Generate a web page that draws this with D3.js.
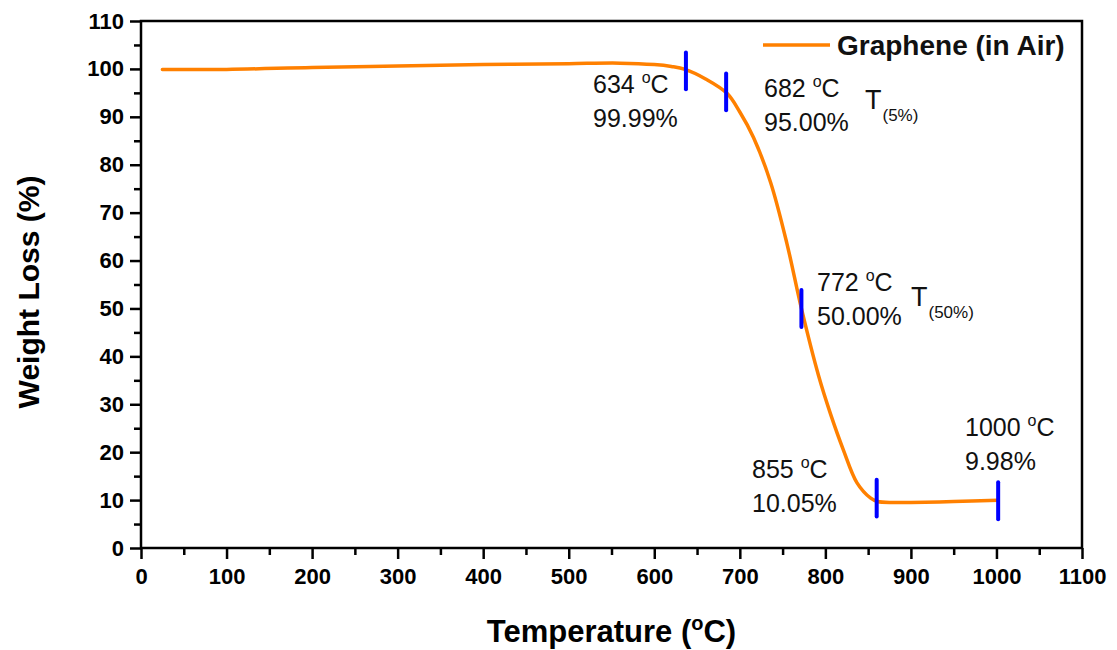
<!DOCTYPE html>
<html>
<head>
<meta charset="utf-8">
<script src="https://cdn.jsdelivr.net/npm/d3@7"></script>
<style>
  body { margin: 0; background: #fff; }
  svg text { font-family: "Liberation Sans", Arial, sans-serif; }
</style>
</head>
<body>
<svg id="chart" width="1117" height="650"></svg>
<script>
// TGA curve
var temps   = [25, 100, 200, 300, 400, 500, 560, 600, 620, 636, 660, 685, 700, 716, 736, 755, 772, 792, 806, 821, 837, 853, 861, 880, 900, 950, 1002];
var weights = [99.9, 99.9, 100.3, 100.6, 100.9, 101.1, 101.2, 100.9, 100.5, 99.9, 97.9, 94.9, 91.0, 85.7, 76.3, 63.6, 50.0, 36.0, 28.0, 20.5, 13.6, 10.4, 9.7, 9.5, 9.5, 9.7, 9.98];

// blue markers and their labels
var markT   = [637, 684, 772, 860, 1002];
var markW   = [99.6, 95.2, 50.0, 10.4, 9.85];
var markTempLabels = ['634', '682', '772', '855', '1000'];
var markPctLabels  = ['99.99%', '95.00%', '50.00%', '10.05%', '9.98%'];

var xTicks = [0, 100, 200, 300, 400, 500, 600, 700, 800, 900, 1000, 1100];
var yTicks = [0, 10, 20, 30, 40, 50, 60, 70, 80, 90, 100, 110];

var svg = d3.select('#chart');
var margin = {left: 141, top: 21, right: 35, bottom: 102};
var width = 1117 - margin.left - margin.right;
var height = 650 - margin.top - margin.bottom;

var g = svg.append('g').attr('transform', 'translate(' + margin.left + ',' + margin.top + ')');

var x = d3.scaleLinear().domain([0, 1100]).range([0, width]);
var y = d3.scaleLinear().domain([0, 110]).range([height, 0]);

// minor ticks
var xMinor = d3.range(50, 1100, 100);
var yMinor = d3.range(5, 110, 10);

g.append('g')
  .attr('transform', 'translate(0,' + height + ')')
  .call(d3.axisBottom(x).tickValues(xMinor).tickSize(7).tickFormat(''))
  .call(function(s) { s.select('.domain').remove(); })
  .selectAll('line').attr('stroke-width', 2.5);

g.append('g')
  .call(d3.axisLeft(y).tickValues(yMinor).tickSize(7).tickFormat(''))
  .call(function(s) { s.select('.domain').remove(); })
  .selectAll('line').attr('stroke-width', 2.5);

var xAxis = g.append('g')
  .attr('transform', 'translate(0,' + height + ')')
  .call(d3.axisBottom(x).tickValues(xTicks).tickFormat(d3.format('d'))
    .tickSize(11).tickSizeOuter(0).tickPadding(9));
xAxis.select('.domain').remove();
xAxis.selectAll('line').attr('stroke-width', 2.5);
xAxis.selectAll('text')
  .attr('font-size', 22).attr('font-weight', 'bold').attr('fill', '#000')
  .attr('font-family', '"Liberation Sans", Arial, sans-serif');

var yAxis = g.append('g')
  .call(d3.axisLeft(y).tickValues(yTicks).tickFormat(d3.format('d'))
    .tickSize(11).tickSizeOuter(0).tickPadding(6));
yAxis.select('.domain').remove();
yAxis.selectAll('line').attr('stroke-width', 2.5);
yAxis.selectAll('text')
  .attr('font-size', 22).attr('font-weight', 'bold').attr('fill', '#000')
  .attr('font-family', '"Liberation Sans", Arial, sans-serif');

// frame
g.append('rect')
  .attr('x', 0).attr('y', 0)
  .attr('width', width).attr('height', height)
  .attr('fill', 'none').attr('stroke', '#000').attr('stroke-width', 2.5);

// curve
var line = d3.line()
  .x(function(d, i) { return x(temps[i]); })
  .y(function(d, i) { return y(weights[i]); })
  .curve(d3.curveCatmullRom.alpha(0.5));

g.append('path')
  .datum(temps)
  .attr('d', line)
  .attr('fill', 'none')
  .attr('stroke', '#ff8000')
  .attr('stroke-width', 3.5)
  .attr('stroke-linecap', 'round');

// blue markers
var markHalf = 3.85;
g.selectAll('.mark')
  .data(markT)
  .enter().append('line')
  .attr('class', 'mark')
  .attr('x1', function(d) { return x(d); })
  .attr('x2', function(d) { return x(d); })
  .attr('y1', function(d, i) { return y(markW[i] + markHalf); })
  .attr('y2', function(d, i) { return y(markW[i] - markHalf); })
  .attr('stroke', '#0000ff')
  .attr('stroke-width', 4)
  .attr('stroke-linecap', 'round');

// annotation text (absolute page positions)
var labelPos = [[593, 93], [764, 97], [817, 291], [752, 478], [965, 436]];
var ann = svg.append('g').attr('font-size', 25).attr('fill', '#111');
labelPos.forEach(function(p, i) {
  var t = ann.append('text').attr('x', p[0]).attr('y', p[1]);
  t.append('tspan').text(markTempLabels[i] + ' ');
  t.append('tspan').attr('font-size', 16).attr('dy', -10).text('o');
  t.append('tspan').attr('dy', 10).text('C');
  ann.append('text').attr('x', p[0]).attr('y', p[1] + 34).text(markPctLabels[i]);
});

// T(5%) and T(50%)
var tLabels = [['(5%)', 865, 109], ['(50%)', 911, 306]];
tLabels.forEach(function(d) {
  var t = svg.append('text').attr('x', d[1]).attr('y', d[2]).attr('font-size', 27).attr('fill', '#111');
  t.append('tspan').text('T');
  t.append('tspan').attr('font-size', 17).attr('dx', 1).attr('dy', 12).text(d[0]);
});

// legend
svg.append('line')
  .attr('x1', 763).attr('x2', 830).attr('y1', 45).attr('y2', 45)
  .attr('stroke', '#ff8000').attr('stroke-width', 3.5);
svg.append('text')
  .attr('x', 837).attr('y', 55)
  .attr('font-size', 28).attr('font-weight', 'bold').attr('fill', '#111')
  .text('Graphene (in Air)');

// axis titles
var xt = svg.append('text')
  .attr('x', margin.left + width / 2).attr('y', 642)
  .attr('text-anchor', 'middle')
  .attr('font-size', 31).attr('font-weight', 'bold').attr('fill', '#000');
xt.append('tspan').text('Temperature (');
xt.append('tspan').attr('font-size', 20).attr('dy', -12).text('o');
xt.append('tspan').attr('dy', 12).text('C)');

svg.append('text')
  .attr('transform', 'translate(39,292) rotate(-90)')
  .attr('text-anchor', 'middle')
  .attr('font-size', 30).attr('font-weight', 'bold').attr('fill', '#000')
  .text('Weight Loss (%)');
</script>
</body>
</html>
